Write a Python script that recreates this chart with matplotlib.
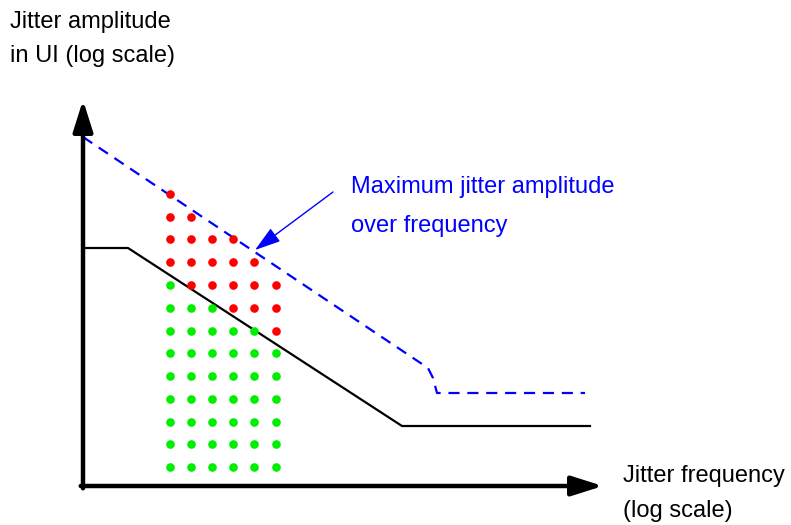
import matplotlib.pyplot as plt

# schematic values, in chart units measured from the axis corner
limit_x = [0, 45, 319, 507]          # jitter tolerance mask (solid black)
limit_y = [238, 238, 60, 60]
max_x = [0, 345, 350, 354, 502]      # maximum jitter amplitude (dashed blue)
max_y = [349, 118, 108, 93, 93]

test_freqs = [87, 108, 129, 150, 171, 193]
test_amps = [292, 269, 247, 224, 201, 178, 155, 133, 110, 87, 64, 42, 19]
# R = fail, G = pass, . = not tested (one string per amplitude row, top down)
test_result = [
    "R.....",
    "RR....",
    "RRRR..",
    "RRRRR.",
    "GRRRRR",
    "GGGRRR",
    "GGGGGR",
    "GGGGGG",
    "GGGGGG",
    "GGGGGG",
    "GGGGGG",
    "GGGGGG",
    "GGGGGG",
]

plt.rcParams["font.family"] = ["Liberation Sans", "DejaVu Sans"]

fig = plt.figure(figsize=(7.91, 5.25), dpi=100)
ax = fig.add_axes([0, 0, 1, 1])
ax.set_xlim(-83, 708)
ax.set_ylim(-39, 486)
ax.axis("off")

# axes with arrow heads
head = dict(arrowstyle="-|>,head_length=1.9,head_width=0.6", mutation_scale=10,
            lw=3.2, color="black", shrinkA=0, shrinkB=0)
ax.annotate("", xy=(520, 0), xytext=(-2.3, 0), arrowprops=head)
ax.annotate("", xy=(0, 386), xytext=(0, -2.3), arrowprops=head)

ax.plot(limit_x, limit_y, color="black", lw=1.6)
ax.plot(max_x, max_y, color="#0000ff", lw=1.6, dashes=(5, 3.5))

colors = {"R": "#ff0000", "G": "#00ee00"}
for amp, row in zip(test_amps, test_result):
    for freq, res in zip(test_freqs, row):
        if res in colors:
            ax.plot(freq, amp, "o", ms=6.2, color=colors[res], mec="none")

ax.annotate("", xy=(172, 236), xytext=(250, 294),
            arrowprops=dict(arrowstyle="-|>,head_length=1.6,head_width=0.5",
                            mutation_scale=10, lw=1, color="#0000ff",
                            shrinkA=0, shrinkB=0))
ax.text(268, 293, "Maximum jitter amplitude", color="#0000ff", fontsize=17,
        va="baseline")
ax.text(268, 254, "over frequency", color="#0000ff", fontsize=17, va="baseline")

ax.text(-73, 458, "Jitter amplitude", fontsize=17, va="baseline")
ax.text(-73, 424, "in UI (log scale)", fontsize=17, va="baseline")
ax.text(540, 4, "Jitter frequency", fontsize=17, va="baseline")
ax.text(540, -31, "(log scale)", fontsize=17, va="baseline")

fig.savefig("out.png", dpi=100)
